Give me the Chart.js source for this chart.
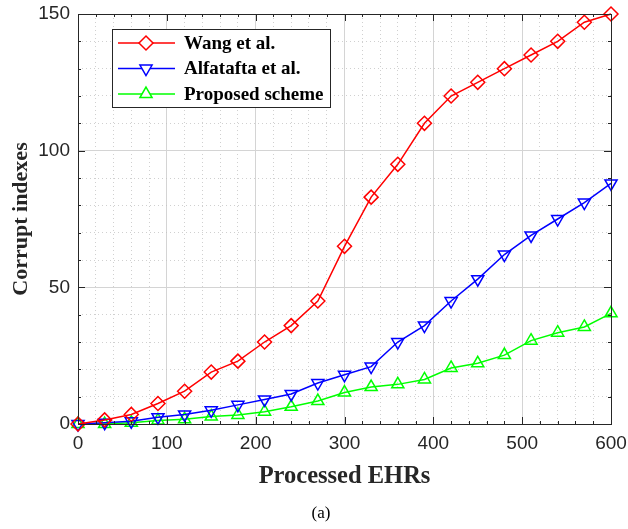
<!DOCTYPE html>
<html>
<head>
    <title>Corrupt indexes vs processed EHRs</title>
    <script src="https://cdn.jsdelivr.net/npm/chart.js"></script>
    <style>
        body { margin: 0; background: #fff; }
        #wrap { width: 628px; height: 529px; position: relative; }
    </style>
</head>
<body>
    <div id="wrap"><canvas id="corruptChart"></canvas></div>
    <script>
        // Data
        const processedEHRs = [0, 30, 60, 90, 120, 150, 180, 210, 240, 270, 300, 330, 360, 390, 420, 450, 480, 510, 540, 570, 600];
        const wangValues = [0, 1.5, 3.5, 7.5, 12, 19, 23, 30, 36, 45, 65, 83, 95, 110, 120, 125, 130, 135, 140, 147, 150];
        const alfataftaValues = [0, 0.5, 1, 2.5, 3.5, 5, 7, 9, 11, 15, 18, 21, 30, 36, 45, 53, 62, 69, 75, 81, 88];
        const proposedValues = [0, 0, 0.5, 1.3, 1.7, 2.7, 3.3, 4.5, 6.3, 8.4, 11.5, 13.5, 14.5, 16.3, 20.5, 22.2, 25.2, 30.5, 33.4, 35.5, 40.5];
        const xTickLabels = [0, 100, 200, 300, 400, 500, 600];
        const yTickLabels = [0, 50, 100, 150];

        const axisColor = '#262626';
        const tickFont = { family: "'Liberation Sans Narrow', 'Liberation Sans', Arial, sans-serif", size: 19 };
        const serif = "'Liberation Serif', 'Times New Roman', serif";

        function makeSet(label, data, color, style, rotation) {
            return {
                label: label,
                data: data,
                borderColor: color,
                backgroundColor: 'rgba(0,0,0,0)',
                borderWidth: 1.5,
                pointStyle: style,
                pointRotation: rotation,
                pointRadius: 7,
                pointBorderWidth: 1.5,
                pointBorderColor: color,
                pointBackgroundColor: 'rgba(0,0,0,0)',
                tension: 0,
                clip: false
            };
        }

        // Box, inward ticks, legend and caption
        const decorPlugin = {
            id: 'decor',
            afterDraw(chart) {
                const ctx = chart.ctx;
                const a = chart.chartArea;
                const xs = chart.scales.x, ys = chart.scales.y;
                ctx.save();
                ctx.strokeStyle = axisColor;
                ctx.lineWidth = 1;
                ctx.strokeRect(Math.round(a.left) + 0.5, Math.round(a.top) + 0.5, Math.round(a.right - a.left), Math.round(a.bottom - a.top));
                ctx.beginPath();
                for (let v = 0; v <= 600; v += 20) {
                    const px = Math.round(xs.getPixelForValue(v)) + 0.5;
                    const len = v % 100 === 0 ? 7 : 3;
                    ctx.moveTo(px, a.bottom); ctx.lineTo(px, a.bottom - len);
                    ctx.moveTo(px, a.top); ctx.lineTo(px, a.top + len);
                }
                for (let v = 0; v <= 150; v += 10) {
                    const py = Math.round(ys.getPixelForValue(v)) + 0.5;
                    const len = v % 50 === 0 ? 7 : 3;
                    ctx.moveTo(a.left, py); ctx.lineTo(a.left + len, py);
                    ctx.moveTo(a.right, py); ctx.lineTo(a.right - len, py);
                }
                ctx.stroke();

                // legend
                const lx = 112, ly = 29, lw = 218, lh = 78;
                ctx.fillStyle = '#fff';
                ctx.fillRect(lx, ly, lw, lh);
                ctx.strokeStyle = axisColor;
                ctx.strokeRect(lx + 0.5, ly + 0.5, lw, lh);
                ctx.textBaseline = 'middle';
                chart.data.datasets.forEach((ds, i) => {
                    const y = 43 + i * 25.5;
                    ctx.strokeStyle = ds.borderColor;
                    ctx.lineWidth = 1.5;
                    ctx.beginPath();
                    ctx.moveTo(118, y); ctx.lineTo(175, y);
                    ctx.stroke();
                    ctx.fillStyle = '#fff';
                    Chart.helpers.drawPoint(ctx, {
                        pointStyle: ds.pointStyle, rotation: ds.pointRotation,
                        radius: ds.pointRadius, borderWidth: ds.pointBorderWidth
                    }, 146, y);
                    ctx.fillStyle = '#000';
                    ctx.font = 'bold 19px ' + serif;
                    ctx.fillText(ds.label, 184, y + 1);
                });

                ctx.fillStyle = '#000';
                ctx.textAlign = 'center';
                ctx.font = '17px ' + serif;
                ctx.fillText('(a)', 321, 514);
                ctx.restore();
            }
        };

        const ctx = document.getElementById('corruptChart').getContext('2d');
        new Chart(ctx, {
            type: 'line',
            data: {
                datasets: [
                    makeSet('Wang et al.', wangValues.map((v, i) => ({ x: processedEHRs[i], y: v })), '#ff0000', 'rectRot', 0),
                    makeSet('Alfatafta et al.', alfataftaValues.map((v, i) => ({ x: processedEHRs[i], y: v })), '#0000ff', 'triangle', 180),
                    makeSet('Proposed scheme', proposedValues.map((v, i) => ({ x: processedEHRs[i], y: v })), '#00ff00', 'triangle', 0)
                ]
            },
            options: {
                responsive: true,
                maintainAspectRatio: false,
                animation: false,
                layout: { padding: { left: 0, right: 17, top: 14, bottom: 0 } },
                plugins: { legend: { display: false }, tooltip: { enabled: false } },
                scales: {
                    x: {
                        type: 'linear',
                        min: 0, max: 600,
                        afterFit(scale) { scale.height = 105; scale.paddingLeft = 0; scale.paddingRight = 0; },
                        ticks: {
                            stepSize: 20, autoSkip: false, maxRotation: 0, padding: 8,
                            color: axisColor, font: tickFont,
                            callback: v => xTickLabels.includes(v) ? String(v) : ''
                        },
                        grid: {
                            drawTicks: false,
                            color: c => c.tick && c.tick.value % 100 === 0 ? '#d4d4d4' : '#c4c4c4',
                            lineWidth: c => c.tick && c.tick.value % 100 === 0 ? 1 : 0.8
                        },
                        border: { display: false, dash: c => c.tick && c.tick.value % 100 === 0 ? [] : [1, 3] },
                        title: { display: true, text: 'Processed EHRs', color: axisColor, font: { family: serif, size: 24.5, weight: 'bold' }, padding: { top: 0, bottom: 38 } }
                    },
                    y: {
                        min: 0, max: 150,
                        afterFit(scale) { scale.width = 78; scale.paddingTop = 0; scale.paddingBottom = 0; },
                        ticks: {
                            stepSize: 10, autoSkip: false, padding: 8,
                            color: axisColor, font: tickFont,
                            callback: v => yTickLabels.includes(v) ? String(v) : ''
                        },
                        grid: {
                            drawTicks: false,
                            color: c => c.tick && c.tick.value % 50 === 0 ? '#d4d4d4' : '#c4c4c4',
                            lineWidth: c => c.tick && c.tick.value % 50 === 0 ? 1 : 0.8
                        },
                        border: { display: false, dash: c => c.tick && c.tick.value % 50 === 0 ? [] : [1, 3] },
                        title: { display: true, text: 'Corrupt indexes', color: axisColor, font: { family: serif, size: 22, weight: 'bold' }, padding: { top: 8, bottom: 0 } }
                    }
                }
            },
            plugins: [decorPlugin]
        });
    </script>
</body>
</html>
